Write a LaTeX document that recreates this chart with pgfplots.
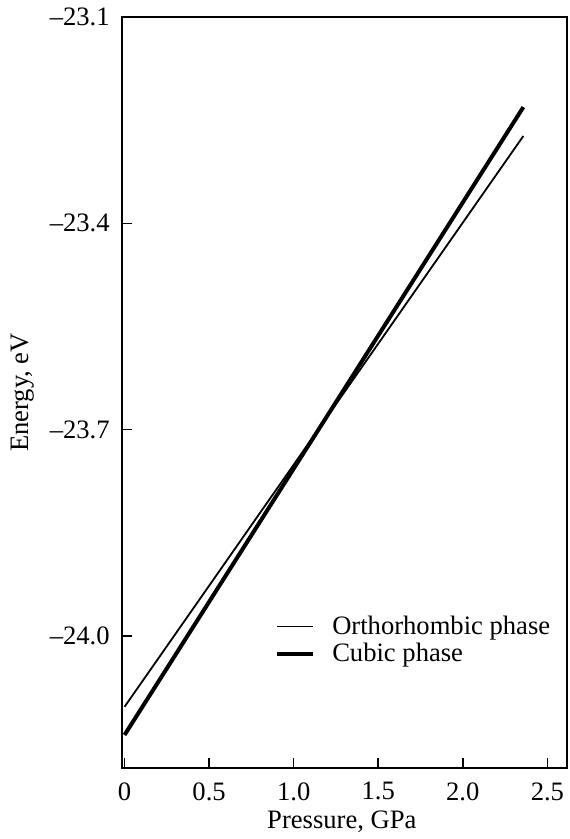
\documentclass[border=0pt]{standalone}
\usepackage{fontspec}
\setmainfont{Liberation Serif}
\usepackage{pgfplots}
\pgfplotsset{compat=1.18}
\newcommand{\lblfont}{\fontsize{13.3}{16}\selectfont}
\begin{document}
\begin{tikzpicture}
\begin{axis}[
  scale only axis,
  width=222.5pt, height=375.5pt,
  xmin=-0.015, xmax=2.616,
  ymin=-24.192, ymax=-23.1,
  xtick={0,0.5,1,1.5,2,2.5},
  xticklabels={0,0.5,1.0,1.5,2.0,2.5},
  ytick={-24,-23.7,-23.4,-23.1},
  yticklabels={--24.0,--23.7,--23.4,--23.1},
  tick pos=left, tick align=inside,
  major tick length=5pt,
  axis line style={line width=1pt},
  tick style={line width=0.8pt, black},
  yticklabel style={font=\lblfont, anchor=east, inner sep=0pt, xshift=-6pt},
  xticklabel style={font=\lblfont, anchor=north, inner sep=0pt, yshift=-7pt},
  ylabel={Energy, eV},
  xlabel={Pressure, GPa},
  ylabel style={font=\lblfont, at={(axis description cs:-0.2225,0.5)}, anchor=center},
  xlabel style={font=\lblfont, at={(axis description cs:0.494,-0.0799)}, anchor=base},
  legend style={draw=none, fill=none, font=\lblfont,
    at={(axis description cs:0.33,0.214)}, anchor=north west,
    row sep=-1pt},
  legend image code/.code={\draw[#1] (0pt,0pt) -- (18pt,0pt); \path (24.5pt,0pt);},
  legend cell align=left,
]
% thin line: orthorhombic phase
\addplot[black, line width=0.9pt] coordinates {(0,-24.103) (2.358,-23.273)};
\addlegendentry{Orthorhombic phase}
% thick line: cubic phase
\addplot[black, line width=2pt] coordinates {(0,-24.144) (2.358,-23.231)};
\addlegendentry{Cubic phase}
\end{axis}
\pgfresetboundingbox
\path (current axis.south west) ++(-61pt,-35.5pt) coordinate (bbA);
\path (current axis.north east) ++(1pt,8.5pt) coordinate (bbB);
\path[use as bounding box] (bbA) rectangle (bbB);
\end{tikzpicture}
\end{document}
